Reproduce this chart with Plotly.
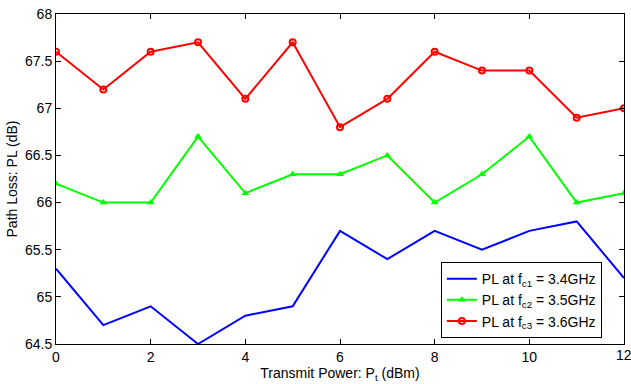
import plotly.graph_objects as go

x = list(range(0, 13))
pl_fc1 = [65.3, 64.7, 64.9, 64.5, 64.8, 64.9, 65.7, 65.4, 65.7, 65.5, 65.7, 65.8, 65.2]
pl_fc2 = [66.2, 66.0, 66.0, 66.7, 66.1, 66.3, 66.3, 66.5, 66.0, 66.3, 66.7, 66.0, 66.1]
pl_fc3 = [67.6, 67.2, 67.6, 67.7, 67.1, 67.7, 66.8, 67.1, 67.6, 67.4, 67.4, 66.9, 67.0]
names = ["PL at f<sub>c1</sub> = 3.4GHz", "PL at f<sub>c2</sub> = 3.5GHz", "PL at f<sub>c3</sub> = 3.6GHz"]
x_ticks = [0, 2, 4, 6, 8, 10, 12]
y_ticks = [64.5, 65, 65.5, 66, 66.5, 67, 67.5, 68]

fig = go.Figure()
fig.add_trace(go.Scatter(x=x, y=pl_fc1, mode="lines", name=names[0],
                         line=dict(color="#0000ff", width=2)))
fig.add_trace(go.Scatter(x=x, y=pl_fc2, mode="lines+markers", name=names[1],
                         line=dict(color="#00ff00", width=2),
                         marker=dict(symbol="triangle-up", size=7, color="#00ff00")))
fig.add_trace(go.Scatter(x=x, y=pl_fc3, mode="lines+markers", name=names[2],
                         line=dict(color="#ff0000", width=2),
                         marker=dict(symbol="circle-open", size=6, color="#ff0000",
                                     line=dict(width=2, color="#ff0000"))))

axis_common = dict(showgrid=False, zeroline=False, showline=True, linecolor="black",
                   linewidth=1, mirror="ticks", ticks="inside", ticklen=5,
                   tickcolor="black", tickfont=dict(size=14, color="black"))

# last x tick label drawn as annotation (it overhangs the right edge)
fig.add_annotation(x=x_ticks[-1], y=0, xref="x", yref="paper", text=str(x_ticks[-1]),
                   showarrow=False, yanchor="top", xanchor="center", yshift=-1,
                   font=dict(size=14, color="black"))

fig.update_layout(
    width=631, height=384,
    margin=dict(l=56, r=6, t=10, b=40),
    paper_bgcolor="white", plot_bgcolor="white",
    font=dict(family="Liberation Sans, Arial, sans-serif", size=14, color="black"),
    xaxis=dict(range=[0, 12], tickvals=x_ticks,
               title=dict(text="Transmit Power: P<sub>t</sub> (dBm)", standoff=1,
                          font=dict(size=14)), **axis_common),
    yaxis=dict(range=[64.5, 68], tickvals=y_ticks,
               ticktext=[f"{v:g}" for v in y_ticks],
               title=dict(text="Path Loss: PL (dB)", standoff=4, font=dict(size=14)),
               **axis_common),
    legend=dict(x=0.961, y=0.018, xanchor="right", yanchor="bottom",
                bgcolor="white", bordercolor="black", borderwidth=1,
                font=dict(size=14), tracegroupgap=0, itemwidth=30),
    showlegend=True,
)

fig.write_html("out.html", config={"displayModeBar": False},
               post_script="document.body.style.margin='0';document.body.style.padding='0';document.body.style.overflow='hidden';")
